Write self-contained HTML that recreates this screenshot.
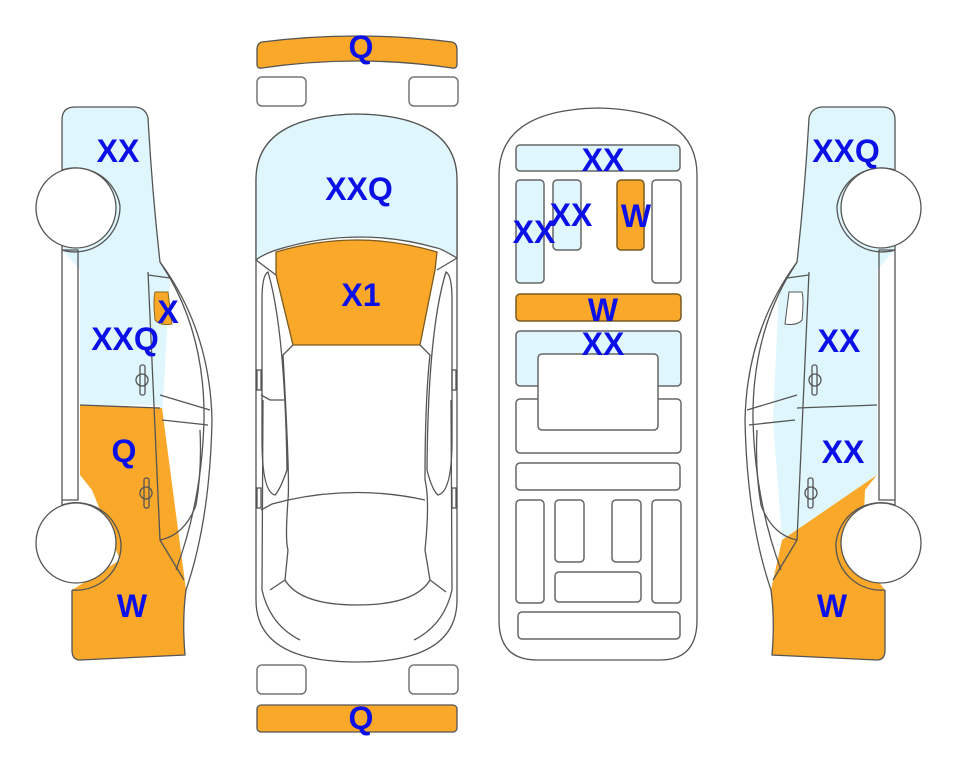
<!DOCTYPE html>
<html><head><meta charset="utf-8"><style>
html,body{margin:0;padding:0;background:#fff;width:963px;height:768px;overflow:hidden}
svg{display:block}
text{font-family:"Liberation Sans",sans-serif;font-weight:bold;font-size:32px;fill:#0a10e6;text-anchor:middle}
</style></head><body>
<svg width="963" height="768" viewBox="0 0 963 768" xmlns="http://www.w3.org/2000/svg">
<defs>
<g id="side" fill="none" stroke="#555" stroke-width="1.3">
  <path d="M62,120 Q62,107 75,107 L135,107 Q146,108 148,118 Q152,190 160,262 Q210,330 212,420 Q210,520 186,590 Q182,620 185,655 L80,660 Q72,660 72,650 L72,590 M62,120 L62,250 M62,250 L62,505"/>
  <path d="M62,250 L78,250 L78,500 L62,500"/>
  <path d="M160,262 L170,278 Q205,340 204,420 Q202,500 176,570"/>
  <path d="M170,278 L148,275"/>
  <path d="M148,272 L160,540 L184,580"/>
  <path d="M160,395 L210,410 M162,420 L208,425"/>
  <path d="M160,540 Q185,535 196,505 Q202,470 200,430"/>
  <path d="M80,405 L160,408"/>
  <rect x="140" y="365" width="5" height="30" rx="2"/>
  <ellipse cx="142" cy="380" rx="6" ry="6"/>
  <rect x="144" y="478" width="5" height="30" rx="2"/>
  <ellipse cx="146" cy="493" rx="6" ry="6"/>
  <path d="M62,170 A45,45 0 0 1 120,206 A45,45 0 0 1 62,250"/>
  <circle cx="76" cy="208" r="40" fill="#fff"/>
  <path d="M62,505 A45,45 0 0 1 121,543 A45,45 0 0 1 72,590"/>
  <circle cx="76" cy="543" r="40" fill="#fff"/>
</g>
</defs>

<path d="M62,120 Q62,107 75,107 L135,107 Q146,108 148,118 Q152,190 160,262 L170,278 L162,420 L160,405 L80,405 L80,270 L62,250 Z" fill="#dff6fc"/>
<path d="M80,405 L162,408 L186,590 Q182,620 185,655 L80,660 Q72,660 72,650 L72,590 L120,560 L92,490 L80,475 Z" fill="#f9a82a"/>
<path d="M155,292 Q153,300 155,320 Q160,326 172,324 L168,292 Z" fill="#f9a82a" stroke="#8a6a20" stroke-width="1"/>
<use href="#side"/>
<text x="118" y="162">XX</text>
<text x="168" y="323">X</text>
<text x="125" y="350">XXQ</text>
<text x="124" y="462">Q</text>
<text x="132" y="617">W</text>

<g transform="translate(957,0) scale(-1,1)">
<path d="M62,120 Q62,107 75,107 L135,107 Q146,108 148,118 Q152,190 160,262 L170,278 L178,290 L184,420 L175,540 L120,505 L92,490 L80,475 L80,270 L62,250 Z" fill="#dff6fc"/>
<path d="M80,475 L175,540 L186,590 Q182,620 185,655 L80,660 Q72,660 72,650 L72,590 L95,560 L92,490 Z" fill="#f9a82a"/>
<path d="M155,292 Q153,300 155,320 Q160,326 172,324 L168,292 Z" fill="#fff" stroke="#555" stroke-width="1"/>
<use href="#side"/>
</g>
<text x="846" y="162">XXQ</text>
<text x="839" y="352">XX</text>
<text x="843" y="463">XX</text>
<text x="832" y="617">W</text>

<g stroke="#555" stroke-width="1.3">
<path d="M262,42 Q357,30 452,42 Q457,43 457,50 L457,64 Q457,69 452,68 Q357,54 262,68 Q257,69 257,64 L257,50 Q257,43 262,42 Z" fill="#f9a82a" stroke-linejoin="round"/>
<rect x="257" y="77" width="49" height="29" rx="5" fill="#fff" stroke="#777" stroke-width="1.5"/>
<rect x="409" y="77" width="49" height="29" rx="5" fill="#fff" stroke="#777" stroke-width="1.5"/>
<rect x="257" y="665" width="49" height="29" rx="5" fill="#fff" stroke="#777" stroke-width="1.5"/>
<rect x="409" y="665" width="49" height="29" rx="5" fill="#fff" stroke="#777" stroke-width="1.5"/>
<rect x="257" y="705" width="200" height="27" rx="4" fill="#f9a82a"/>
<path d="M256,260 L256,180 Q256,116 357,114 Q457,116 457,180 L457,260 L457,600 Q457,662 357,662 Q256,662 256,600 Z" fill="#fff"/>
<path d="M256,260 L256,180 Q256,116 357,114 Q457,116 457,180 L457,258 Q440,248 437,248 Q357,225 276,250 Q262,255 256,260 Z" fill="#dff6fc"/>
<path d="M276,252 Q357,228 437,252 L435,270 L420,345 L293,345 L276,275 Z" fill="#f9a82a" stroke="#7a5a20"/>
<g fill="none">
<path d="M256,260 L276,275 M457,258 L437,270"/>
<path d="M293,345 L283,355 Q290,480 288,500 Q285,540 288,550 L285,580 Q300,605 357,605 Q415,605 430,580 L425,550 Q430,500 425,480 Q425,400 430,355 L420,345"/>
<path d="M268,272 Q285,330 287,470 Q280,490 275,495 Q262,492 262,440 L262,300 Q262,275 268,272 Z"/>
<path d="M446,272 Q428,330 427,470 Q432,490 438,495 Q452,492 452,440 L452,300 Q452,275 446,272 Z"/>
<path d="M288,500 Q357,485 425,500"/>
<path d="M263,400 L262,590 Q270,625 300,640 M451,400 L452,590 Q444,625 414,640"/>
<path d="M285,580 L270,590 M430,580 L446,592"/>
<rect x="257" y="370" width="4" height="20"/>
<rect x="452" y="370" width="4" height="20"/>
<rect x="257" y="488" width="4" height="20"/>
<rect x="452" y="488" width="4" height="20"/>
<path d="M261,395 L270,400 L284,400 M261,510 L272,504 L288,500"/>
</g>
</g>
<text x="361" y="58">Q</text>
<text x="359" y="200">XXQ</text>
<text x="361" y="306">X1</text>
<text x="361" y="729">Q</text>

<g stroke="#666" stroke-width="1.5">
<path d="M499,175 Q499,110 598,108 Q697,110 697,175 L697,620 Q697,660 660,660 L537,660 Q499,660 499,620 Z" fill="#fff" stroke="#555" stroke-width="1.3"/>
<rect x="516" y="145" width="164" height="26" rx="4" fill="#dff6fc"/>
<rect x="516" y="180" width="28" height="103" rx="4" fill="#dff6fc"/>
<rect x="553" y="180" width="28" height="70" rx="4" fill="#dff6fc"/>
<rect x="617" y="180" width="27" height="70" rx="4" fill="#f9a82a" stroke="#7a5a20"/>
<rect x="652" y="180" width="29" height="103" rx="4" fill="#fff"/>
<rect x="516" y="294" width="165" height="27" rx="4" fill="#f9a82a" stroke="#7a5a20"/>
<rect x="516" y="331" width="165" height="55" rx="4" fill="#dff6fc"/>
<rect x="516" y="399" width="165" height="54" rx="4" fill="#fff"/>
<rect x="538" y="354" width="120" height="76" rx="4" fill="#fff"/>
<rect x="516" y="463" width="164" height="27" rx="4" fill="#fff"/>
<rect x="516" y="500" width="28" height="103" rx="4" fill="#fff"/>
<rect x="555" y="500" width="29" height="62" rx="4" fill="#fff"/>
<rect x="612" y="500" width="29" height="62" rx="4" fill="#fff"/>
<rect x="652" y="500" width="29" height="103" rx="4" fill="#fff"/>
<rect x="555" y="572" width="86" height="30" rx="4" fill="#fff"/>
<rect x="518" y="612" width="162" height="27" rx="4" fill="#fff"/>
</g>
<text x="603" y="171">XX</text>
<text x="534" y="243">XX</text>
<text x="571" y="226">XX</text>
<text x="636" y="227">W</text>
<text x="603" y="321">W</text>
<text x="603" y="355">XX</text>
</svg>
</body></html>
